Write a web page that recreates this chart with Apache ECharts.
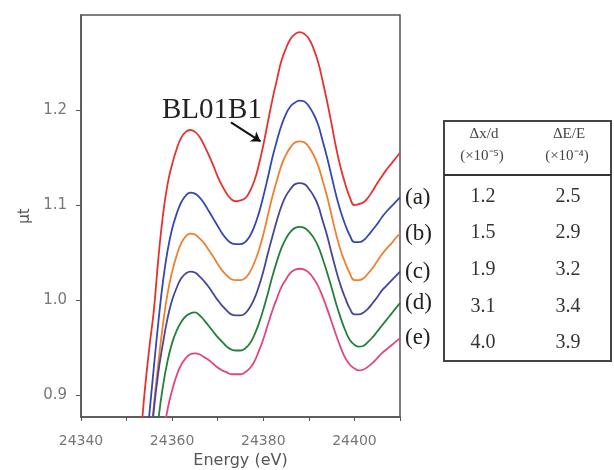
<!DOCTYPE html>
<html lang="en">
<head>
  <meta charset="UTF-8">
  <title>XANES spectra</title>
  <script src="https://cdn.jsdelivr.net/npm/echarts@6/dist/echarts.min.js"></script>
  <style>
    html, body { margin: 0; padding: 0; background: #fff; }
  </style>
</head>
<body>
  <div id="main" style="width:614px; height:470px;"></div>
  <script>
    // energy grid (eV) shared by every curve
    var energy = [24352, 24353, 24354, 24355, 24356, 24357, 24358, 24359, 24360, 24361,
                  24362, 24363, 24364, 24365, 24366, 24367, 24368, 24369, 24370, 24371,
                  24372, 24373, 24374, 24375, 24376, 24377, 24378, 24379, 24380, 24381,
                  24382, 24383, 24384, 24385, 24386, 24387, 24388, 24389, 24390, 24391,
                  24392, 24393, 24394, 24395, 24396, 24397, 24398, 24399, 24400, 24401,
                  24402, 24403, 24404, 24405, 24406, 24407, 24408, 24409, 24410];

    // mu*t values
    var bl01b1 = [0.80, 0.85, 0.905, 0.95, 0.99, 1.045, 1.09, 1.122, 1.143, 1.159,
                  1.171, 1.177, 1.179, 1.177, 1.172, 1.163, 1.153, 1.142, 1.130, 1.120,
                  1.112, 1.106, 1.104, 1.105, 1.107, 1.114, 1.125, 1.142, 1.163, 1.187,
                  1.211, 1.232, 1.252, 1.265, 1.275, 1.280, 1.282, 1.280, 1.275, 1.265,
                  1.251, 1.231, 1.209, 1.185, 1.160, 1.139, 1.122, 1.108, 1.100, 1.101,
                  1.103, 1.108, 1.115, 1.123, 1.130, 1.137, 1.143, 1.149, 1.155];
    var curveA = [0.72, 0.775, 0.83, 0.88, 0.93, 0.978, 1.02, 1.052, 1.075, 1.091,
                  1.103, 1.110, 1.113, 1.112, 1.108, 1.102, 1.094, 1.086, 1.078, 1.070,
                  1.064, 1.060, 1.059, 1.059, 1.061, 1.067, 1.077, 1.091, 1.109, 1.129,
                  1.150, 1.168, 1.184, 1.196, 1.204, 1.208, 1.210, 1.209, 1.204, 1.196,
                  1.185, 1.168, 1.150, 1.130, 1.110, 1.093, 1.079, 1.068, 1.061, 1.061,
                  1.063, 1.068, 1.074, 1.080, 1.087, 1.093, 1.098, 1.103, 1.108];
    var curveB = [0.72, 0.75, 0.79, 0.84, 0.89, 0.935, 0.975, 1.007, 1.03, 1.047,
                  1.060, 1.067, 1.070, 1.069, 1.065, 1.060, 1.053, 1.046, 1.038, 1.031,
                  1.026, 1.022, 1.021, 1.021, 1.023, 1.029, 1.039, 1.052, 1.069, 1.089,
                  1.109, 1.126, 1.142, 1.153, 1.161, 1.166, 1.167, 1.166, 1.161, 1.153,
                  1.142, 1.126, 1.109, 1.089, 1.069, 1.052, 1.039, 1.028, 1.021, 1.021,
                  1.023, 1.028, 1.034, 1.041, 1.048, 1.054, 1.059, 1.065, 1.070];
    var curveC = [0.70, 0.74, 0.78, 0.83, 0.885, 0.925, 0.955, 0.981, 1.0, 1.013,
                  1.023, 1.028, 1.030, 1.029, 1.025, 1.020, 1.014, 1.007, 1.000, 0.994,
                  0.989, 0.985, 0.984, 0.984, 0.986, 0.992, 1.001, 1.014, 1.030, 1.049,
                  1.067, 1.084, 1.099, 1.110, 1.117, 1.122, 1.123, 1.122, 1.117, 1.110,
                  1.100, 1.084, 1.068, 1.049, 1.031, 1.015, 1.002, 0.991, 0.985, 0.985,
                  0.987, 0.991, 0.997, 1.003, 1.010, 1.015, 1.020, 1.025, 1.030];
    var curveD = [0.65, 0.685, 0.72, 0.775, 0.83, 0.875, 0.91, 0.936, 0.955, 0.968,
                  0.977, 0.983, 0.986, 0.987, 0.984, 0.979, 0.973, 0.967, 0.961, 0.956,
                  0.951, 0.948, 0.947, 0.947, 0.949, 0.954, 0.963, 0.975, 0.990, 1.007,
                  1.025, 1.041, 1.055, 1.065, 1.072, 1.076, 1.077, 1.076, 1.072, 1.066,
                  1.057, 1.044, 1.029, 1.013, 0.996, 0.981, 0.968, 0.958, 0.953, 0.951,
                  0.952, 0.956, 0.961, 0.967, 0.973, 0.979, 0.985, 0.991, 0.997];
    var curveE = [0.62, 0.65, 0.68, 0.72, 0.76, 0.81, 0.855, 0.885, 0.905, 0.921,
                  0.932, 0.939, 0.943, 0.944, 0.943, 0.940, 0.937, 0.933, 0.929, 0.926,
                  0.924, 0.922, 0.922, 0.922, 0.924, 0.928, 0.935, 0.946, 0.959, 0.974,
                  0.989, 1.002, 1.014, 1.022, 1.029, 1.032, 1.033, 1.032, 1.029, 1.023,
                  1.015, 1.004, 0.991, 0.977, 0.963, 0.950, 0.939, 0.932, 0.928, 0.926,
                  0.927, 0.930, 0.934, 0.939, 0.944, 0.948, 0.952, 0.956, 0.960];

    // ticks
    var xTicks = [24340, 24350, 24360, 24370, 24380, 24390, 24400, 24410];
    var xLabels = [24340, 24360, 24380, 24400];
    var yTicks = [0.9, 1.0, 1.1, 1.2];

    // table on the right
    var rowNames = ['(a)', '(b)', '(c)', '(d)', '(e)'];
    var dxd = ['1.2', '1.5', '1.9', '3.1', '4.0'];
    var dEE = ['2.5', '2.9', '3.2', '3.4', '3.9'];

    var colors = ['#e8312f', '#3448b4', '#f0802e', '#45469a', '#23803a', '#e2457c'];

    var chart = echarts.init(document.getElementById('main'));

    function pairs(vals) {
      var out = [];
      for (var i = 0; i < energy.length; i++) out.push([energy[i], vals[i]]);
      return out;
    }

    var curves = [bl01b1, curveA, curveB, curveC, curveD, curveE];
    var names = ['BL01B1'].concat(rowNames);
    var series = [];
    for (var i = 0; i < curves.length; i++) {
      var s = {
        name: names[i],
        type: 'line',
        data: pairs(curves[i]),
        smooth: 0.5,
        showSymbol: false,
        clip: true,
        lineStyle: { color: colors[i], width: 1.8 },
        itemStyle: { color: colors[i] }
      };
      if (i > 0) {
        s.endLabel = {
          show: true,
          formatter: '{a}',
          distance: 5,
          fontFamily: 'Liberation Serif',
          fontSize: 23,
          color: '#222'
        };
      } else {
        // arrow pointing at BL01B1 curve
        s.markLine = {
          silent: true,
          symbol: ['none', 'arrow'],
          symbolSize: 9,
          label: { show: false },
          lineStyle: { color: '#111', width: 2, type: 'solid' },
          data: [[{ coord: [24372.9, 1.187] }, { coord: [24379.4, 1.167] }]]
        };
      }
      series.push(s);
    }

    // table graphics
    var tbl = [];
    tbl.push({ type: 'rect', shape: { x: 444, y: 121, width: 167, height: 240 },
               style: { fill: 'none', stroke: '#444', lineWidth: 2 } });
    tbl.push({ type: 'line', shape: { x1: 444, y1: 175, x2: 611, y2: 175 },
               style: { stroke: '#333', lineWidth: 2 } });
    var headStyle = { fontFamily: 'Liberation Serif', fontSize: 15, fill: '#444', align: 'center', verticalAlign: 'middle' };
    tbl.push({ type: 'text', x: 484, y: 134, style: Object.assign({ text: 'Δx/d' }, headStyle) });
    tbl.push({ type: 'text', x: 482, y: 156, style: Object.assign({ text: '(×10⁻⁵)' }, headStyle) });
    tbl.push({ type: 'text', x: 569, y: 134, style: Object.assign({ text: 'ΔE/E' }, headStyle) });
    tbl.push({ type: 'text', x: 567, y: 156, style: Object.assign({ text: '(×10⁻⁴)' }, headStyle) });
    var rowY = [197, 233, 270, 307, 343];
    for (var r = 0; r < rowNames.length; r++) {
      tbl.push({ type: 'text', x: 483, y: rowY[r],
                 style: { text: dxd[r], fontFamily: 'Liberation Serif', fontSize: 20, fill: '#333', align: 'center', verticalAlign: 'middle' } });
      tbl.push({ type: 'text', x: 568, y: rowY[r],
                 style: { text: dEE[r], fontFamily: 'Liberation Serif', fontSize: 20, fill: '#333', align: 'center', verticalAlign: 'middle' } });
    }
    tbl.push({ type: 'text', x: 162, y: 110,
               style: { text: 'BL01B1', fontFamily: 'Liberation Serif', fontSize: 29, fill: '#222', verticalAlign: 'middle' } });

    var option = {
      animation: false,
      backgroundColor: '#fff',
      grid: { left: 81, right: 214, top: 15, bottom: 53, outerBoundsMode: 'none',
              show: true, borderColor: '#555', borderWidth: 1.5 },
      xAxis: {
        type: 'value',
        min: 24340,
        max: 24410,
        name: 'Energy (eV)',
        nameLocation: 'middle',
        nameGap: 36,
        nameTextStyle: { fontFamily: 'DejaVu Sans', fontSize: 16, color: '#555' },
        axisLine: { lineStyle: { color: '#555', width: 1.5 } },
        axisTick: { customValues: xTicks, length: 4, lineStyle: { color: '#555' } },
        axisLabel: { customValues: xLabels, margin: 17, fontFamily: 'DejaVu Sans', fontSize: 14, color: '#777',
                     formatter: function (v) { return String(v); } },
        splitLine: { show: false }
      },
      yAxis: {
        type: 'value',
        min: 0.877,
        max: 1.3,
        name: 'μt',
        nameLocation: 'middle',
        nameRotate: 90,
        nameGap: 48,
        nameTextStyle: { fontFamily: 'DejaVu Sans', fontSize: 15, color: '#555' },
        axisLine: { show: true, lineStyle: { color: '#555', width: 1.5 } },
        axisTick: { show: true, customValues: yTicks, length: 5, lineStyle: { color: '#555' } },
        axisLabel: { customValues: yTicks, margin: 14, fontFamily: 'DejaVu Sans', fontSize: 15, color: '#777',
                     formatter: function (v) { return v.toFixed(1); } },
        splitLine: { show: false }
      },
      series: series,
      graphic: tbl
    };

    chart.setOption(option);
  </script>
</body>
</html>
